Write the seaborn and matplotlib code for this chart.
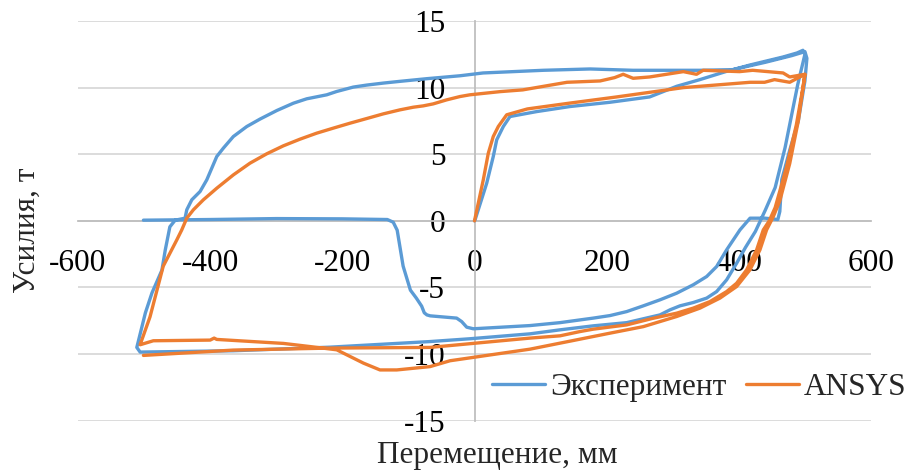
import numpy as np
import pandas as pd
import matplotlib
matplotlib.use('Agg')
import matplotlib.pyplot as plt
import seaborn as sns

sns.set_theme(style='white')
plt.rcParams['font.family'] = ['Liberation Serif', 'DejaVu Serif']

blue = '#5B9BD5'
orange = '#ED7D31'
grid_gray = '#D9D9D9'
axis_gray = '#BFBFBF'

# experiment loop (displacement mm, force t), in drawing order
exp_x = [0, 1, 18.5, 28.4, 33.6, 43.6, 53.7, 94, 144.5, 205, 265, 306, 341, 380, 417, 467, 488, 497,
         # first unloading + lower branch
         500, 489, 470, 455, 440, 425, 410, 396.7, 381.5, 366.4, 351.3, 331, 310.9, 295.8, 280.6, 230.3,
         179.7, 129.4, 84, -7, -67.3, -218.6, -365, -506, -511,
         # reloading + upper branch
         -498, -488, -473, -468, -461, -453, -438, -435.4, -427.8, -415.3, -405.1, -390, -380, -364.9,
         -344.6, -324.5, -299.2, -274.1, -253.9, -223.6, -208.5, -183.4, -163.1, -138, -112.9, -72.3,
         -21.9, 13, 104, 175, 240, 341, 391, 440, 480, 500,
         # second unloading, then force drops to zero
         503, 500, 490, 477, 465, 462, 459, 440, 417, 401.7, 381.5, 366.4, 351.3, 331, 305.9, 280.6,
         255.4, 230.3, 205, 179.7, 129.4, 84, -1.8, -11.8, -19.4, -27, -67, -72, -76, -80, -88, -97,
         -108, -117, -123, -132, -200, -300, -400, -501]
exp_y = [0, 0.1, 2.83, 4.83, 6.08, 7.08, 7.83, 8.2, 8.58, 8.9, 9.3, 10.1, 10.6, 11.2, 11.7, 12.3, 12.6, 12.8,
         12.5, 10.2, 5.5, 2.5, 0.8, -0.8, -2.0, -3.18, -4.43, -5.31, -5.8, -6.13, -6.38, -6.68, -7.06, -7.64,
         -7.88, -8.18, -8.48, -8.85, -9.06, -9.48, -9.75, -9.85, -9.5,
         -6.9, -5.4, -3.7, -2.2, -0.45, 0.05, 0.2, 0.83, 1.58, 2.2, 3.08, 4.83, 5.46, 6.33,
         7.08, 7.64, 8.28, 8.83, 9.16, 9.46, 9.71, 10.04, 10.19, 10.34, 10.47, 10.67,
         10.89, 11.1, 11.3, 11.4, 11.3, 11.3, 11.35, 11.9, 12.4, 12.7,
         12.2, 10.5, 7.5, 5.3, 3.1, 0.7, 0.1, 0.2, 0.2, -0.68, -2.18, -3.43, -4.18, -4.8, -5.43, -5.93,
         -6.38, -6.81, -7.11, -7.3, -7.64, -7.86, -8.1, -7.98, -7.56, -7.3, -7.13, -7.06, -6.9, -6.4, -5.8, -5.2,
         -3.4, -0.7, -0.1, 0.1, 0.15, 0.17, 0.1, 0.05]

# ANSYS loop
ans_x = [0, 13.3, 20.9, 28.4, 36, 48.7, 80, 144.5, 215, 316, 417, 439, 454, 477, 500,
         # first unloading + lower branch with dip
         498, 490, 477, 462, 452, 442, 431.9, 416.8, 396.7, 371.4, 341.2, 305.9, 255.4, 205, 154.6, 84,
         -37, -67.3, -117.7, -143, -168, -208.5, -238, -289, -390, -394, -400, -486, -506,
         # reloading + upper branch
         -491, -471, -450.5, -443, -435.4, -425.4, -410.3, -390, -364.9, -339.7, -314.5, -289.3, -264.1,
         -238.9, -213.6, -188.4, -163.1, -138, -112.9, -92.6, -77.5, -62.4, -42.2, -22, -7, 39, 73, 140,
         190, 212, 225, 240, 265, 316, 336, 346, 401, 421, 467, 477, 500,
         # second unloading
         497, 487, 472, 455, 446, 437, 426.9, 411.8, 396.7, 381.5, 356.3, 331, 305.9, 270.5, 230.3, 179.7,
         159.6, 129.4, 84, -67.3, -218.6, -365, -501]
ans_y = [0, 3.08, 5.08, 6.33, 7.08, 7.96, 8.4, 8.84, 9.3, 10.0, 10.4, 10.4, 10.6, 10.4, 11.0,
         10.3, 7.5, 4.3, 1.5, 0.3, -0.68, -2.18, -3.68, -4.93, -5.8, -6.55, -7.18, -7.94, -8.43, -8.93, -9.63,
         -10.5, -10.94, -11.19, -11.19, -10.68, -9.68, -9.5, -9.2, -8.9, -8.8, -8.95, -9.0, -9.3,
         -7.2, -3.4, -1.43, -0.68, 0.2, 0.83, 1.58, 2.45, 3.45, 4.33, 5.03, 5.63, 6.13,
         6.58, 6.96, 7.33, 7.68, 8.03, 8.33, 8.53, 8.63, 8.78, 9.08, 9.33, 9.46, 9.7, 9.83, 10.4,
         10.5, 10.75, 11.0, 10.7, 10.8, 11.2, 11.0, 11.3, 11.2, 11.3, 11.1, 10.8, 11.0,
         10.0, 7.2, 4.0, 1.0, 0.0, -0.68, -2.18, -3.68, -4.68, -5.31, -6.06, -6.55, -6.93, -7.31, -7.81, -8.13,
         -8.31, -8.63, -8.8, -9.5, -9.55, -9.7, -10.1]

x_ticks = [-600, -400, -200, 0, 200, 400, 600]
y_ticks = [-15, -10, -5, 0, 5, 10, 15]

fs = 22.5
fig = plt.figure(figsize=(9.13, 4.72), dpi=100)
ax = fig.add_axes([78 / 913, 1 - 420.7 / 472, 793 / 913, 399.7 / 472])

for xs, ys, col, lab in [(exp_x, exp_y, blue, 'Эксперимент'), (ans_x, ans_y, orange, 'ANSYS')]:
    d = pd.DataFrame({'x': xs, 'y': ys})
    sns.lineplot(data=d, x='x', y='y', sort=False, estimator=None, color=col, lw=2.4,
                 label=lab, ax=ax, zorder=3, solid_joinstyle='round', solid_capstyle='round')

ax.set_xlim(-600, 600)
ax.set_ylim(-15, 15)
ax.set_xticks(x_ticks)
ax.set_yticks(y_ticks)
ax.set_xticklabels([str(v) for v in x_ticks])
ax.set_yticklabels([str(v) for v in y_ticks])
ax.grid(axis='y', color=grid_gray, lw=1.3)
ax.grid(axis='x', visible=False)
ax.set_axisbelow(True)
for sp in ['top', 'right']:
    ax.spines[sp].set_visible(False)
ax.spines['left'].set_position(('data', 0))
ax.spines['bottom'].set_position(('data', 0))
for sp in ['left', 'bottom']:
    ax.spines[sp].set_color(axis_gray)
    ax.spines[sp].set_linewidth(1.3)
ax.tick_params(axis='both', length=0, labelsize=fs, colors='black')
ax.tick_params(axis='x', pad=20)
ax.tick_params(axis='y', pad=21)
ax.set_xlabel('')
ax.set_ylabel('')

fig.text(27 / 913, 1 - 230 / 472, 'Усилия, т', rotation=90, ha='center', va='center', fontsize=fs)
fig.text(497 / 913, 1 - 456 / 472, 'Перемещение, мм', ha='center', va='center', fontsize=fs)

ax.legend(loc='center left', bbox_to_anchor=(0.522, 0.084), ncol=2, frameon=False,
          fontsize=fs, handlelength=1.7, handletextpad=0.15, columnspacing=0.64,
          borderpad=0, borderaxespad=0)

fig.savefig('out.png', dpi=100)
